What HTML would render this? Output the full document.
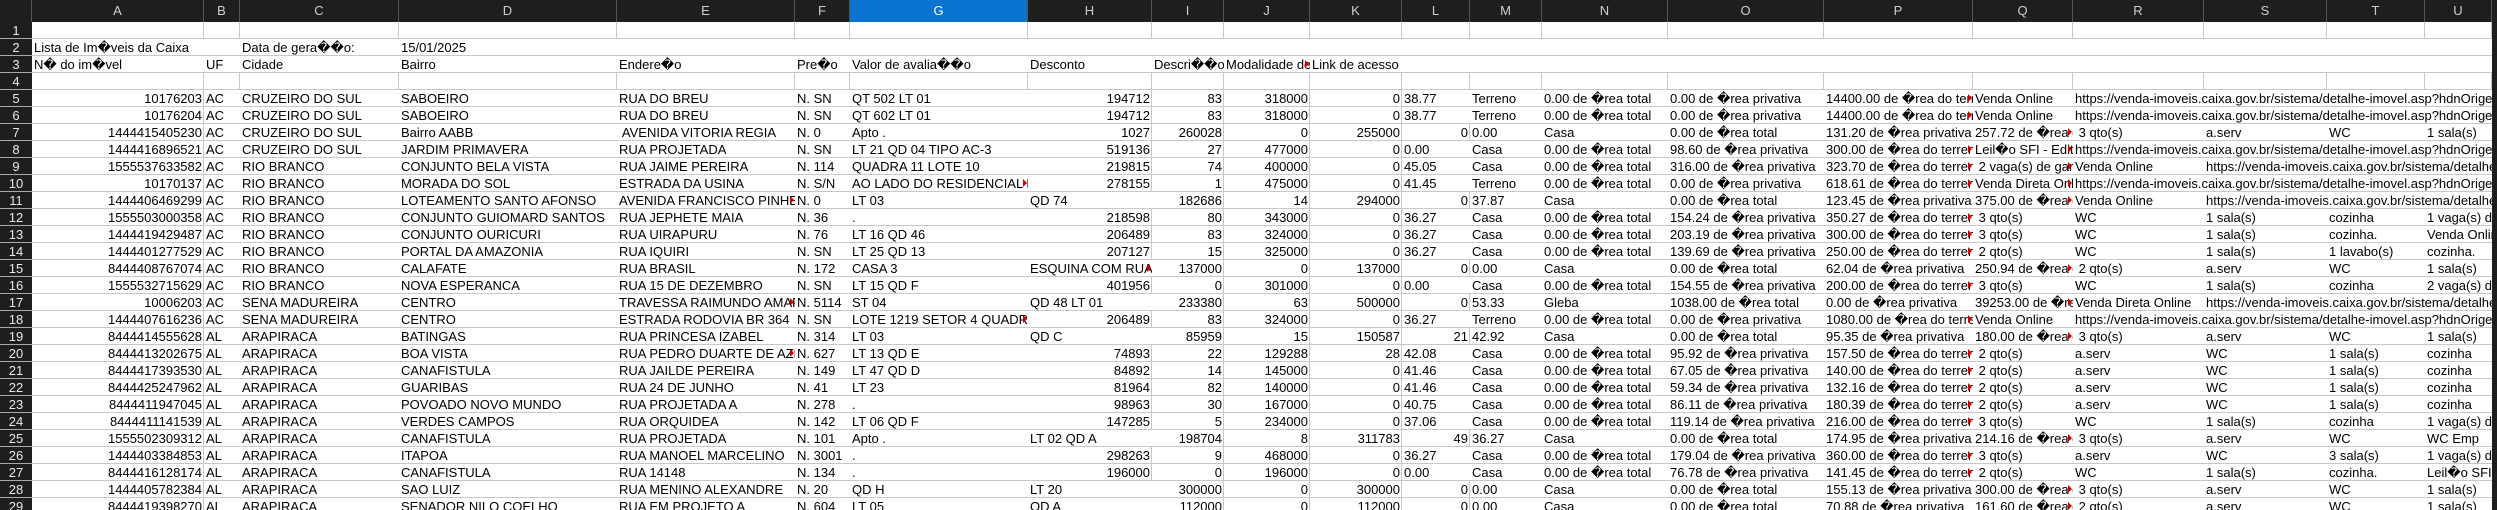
<!DOCTYPE html>
<html><head><meta charset="utf-8">
<style>
html,body{margin:0;padding:0;background:#fff;}
#sheet{position:relative;width:2497px;height:510px;overflow:hidden;font-family:"Liberation Sans",sans-serif;font-size:13px;color:#000;background:#fff;}
.colhdr{position:absolute;top:0;height:22px;background:#1e1e1e;color:#cfcfcf;text-align:center;line-height:22px;font-size:13px;box-sizing:border-box;border-right:1px solid #555;}
.colhdr.sel{background:#0a74d0;color:#fff;}
.rowhdr{position:absolute;left:0;width:32px;height:17px;background:#1e1e1e;color:#e8e8e8;text-align:center;line-height:17px;font-size:13px;box-sizing:border-box;border-bottom:1px solid #aaa;}
.cell{position:absolute;height:17px;box-sizing:border-box;border-right:1px solid #c8c8c8;border-bottom:1px solid #c8c8c8;}
.txt{position:absolute;height:16px;line-height:17px;white-space:pre;overflow:hidden;background:#fff;}
.tri{position:absolute;width:0;height:0;border-top:4px solid transparent;border-bottom:4px solid transparent;border-left:4px solid #d00000;}
</style></head>
<body>
<div id="sheet">
<div style="position:absolute;left:0;top:0;width:32px;height:22px;background:#1e1e1e;box-sizing:border-box;border-right:1px solid #555;"></div>
<div style="position:absolute;left:2492px;top:0;width:5px;height:510px;background:#1e1e1e;z-index:5;"></div>
</div>
<script>
const colLetters=["A","B","C","D","E","F","G","H","I","J","K","L","M","N","O","P","Q","R","S","T","U"];
const colEdges=[32,204,240,399,617,795,850,1028,1152,1224,1310,1402,1470,1542,1668,1824,1973,2073,2204,2327,2425,2492];
const A="0.00 de \uFFFDrea total";
const rows=[
[],
["Lista de Im\uFFFDveis da Caixa","","Data de gera\uFFFD\uFFFDo:","15/01/2025"],
["N\uFFFD do im\uFFFDvel","UF","Cidade","Bairro","Endere\uFFFDo","Pre\uFFFDo","Valor de avalia\uFFFD\uFFFDo","Desconto","Descri\uFFFD\uFFFDo","Modalidade de venda","Link de acesso"],
[],
["10176203","AC","CRUZEIRO DO SUL","SABOEIRO","RUA DO BREU","N. SN","QT 502 LT 01","194712","83","318000","0","38.77","Terreno",A,"0.00 de \uFFFDrea privativa","14400.00 de \uFFFDrea do terreno","Venda Online","https://venda-imoveis.caixa.gov.br/sistema/detalhe-imovel.asp?hdnOrigem=index&hdnimovel=10176203"],
["10176204","AC","CRUZEIRO DO SUL","SABOEIRO","RUA DO BREU","N. SN","QT 602 LT 01","194712","83","318000","0","38.77","Terreno",A,"0.00 de \uFFFDrea privativa","14400.00 de \uFFFDrea do terreno","Venda Online","https://venda-imoveis.caixa.gov.br/sistema/detalhe-imovel.asp?hdnOrigem=index&hdnimovel=10176204"],
["1444415405230","AC","CRUZEIRO DO SUL","Bairro AABB"," AVENIDA VITORIA REGIA","N. 0","Apto .","1027","260028","0","255000","0","0.00","Casa",A,"131.20 de \uFFFDrea privativa","257.72 de \uFFFDrea do terreno"," 3 qto(s)","a.serv","WC","1 sala(s)"],
["1444416896521","AC","CRUZEIRO DO SUL","JARDIM PRIMAVERA","RUA PROJETADA","N. SN","LT 21 QD 04 TIPO AC-3","519136","27","477000","0","0.00","Casa",A,"98.60 de \uFFFDrea privativa","300.00 de \uFFFDrea do terreno","Leil\uFFFDo SFI - Edital \u00danico","https://venda-imoveis.caixa.gov.br/sistema/detalhe-imovel.asp?hdnOrigem=index"],
["1555537633582","AC","RIO BRANCO","CONJUNTO BELA VISTA","RUA JAIME PEREIRA","N. 114","QUADRA 11 LOTE 10","219815","74","400000","0","45.05","Casa",A,"316.00 de \uFFFDrea privativa","323.70 de \uFFFDrea do terreno"," 2 vaga(s) de garagem","Venda Online","https://venda-imoveis.caixa.gov.br/sistema/detalhe-imovel.asp"],
["10170137","AC","RIO BRANCO","MORADA DO SOL","ESTRADA DA USINA","N. S/N","AO LADO DO RESIDENCIAL BOSQUE","278155","1","475000","0","41.45","Terreno",A,"0.00 de \uFFFDrea privativa","618.61 de \uFFFDrea do terreno","Venda Direta Online","https://venda-imoveis.caixa.gov.br/sistema/detalhe-imovel.asp?hdnOrigem=index"],
["1444406469299","AC","RIO BRANCO","LOTEAMENTO SANTO AFONSO","AVENIDA FRANCISCO PINHEIRO","N. 0","LT 03","QD 74","182686","14","294000","0","37.87","Casa",A,"123.45 de \uFFFDrea privativa","375.00 de \uFFFDrea do terreno","Venda Online","https://venda-imoveis.caixa.gov.br/sistema/detalhe-imovel.asp"],
["1555503000358","AC","RIO BRANCO","CONJUNTO GUIOMARD SANTOS","RUA JEPHETE MAIA","N. 36",".","218598","80","343000","0","36.27","Casa",A,"154.24 de \uFFFDrea privativa","350.27 de \uFFFDrea do terreno"," 3 qto(s)","WC","1 sala(s)","cozinha","1 vaga(s) de garagem"],
["1444419429487","AC","RIO BRANCO","CONJUNTO OURICURI","RUA UIRAPURU","N. 76","LT 16 QD 46","206489","83","324000","0","36.27","Casa",A,"203.19 de \uFFFDrea privativa","300.00 de \uFFFDrea do terreno"," 3 qto(s)","WC","1 sala(s)","cozinha.","Venda Online"],
["1444401277529","AC","RIO BRANCO","PORTAL DA AMAZONIA","RUA IQUIRI","N. SN","LT 25 QD 13","207127","15","325000","0","36.27","Casa",A,"139.69 de \uFFFDrea privativa","250.00 de \uFFFDrea do terreno"," 2 qto(s)","WC","1 sala(s)","1 lavabo(s)","cozinha."],
["8444408767074","AC","RIO BRANCO","CALAFATE","RUA BRASIL","N. 172","CASA 3","ESQUINA COM RUA ACRE","137000","0","137000","0","0.00","Casa",A,"62.04 de \uFFFDrea privativa","250.94 de \uFFFDrea do terreno"," 2 qto(s)","a.serv","WC","1 sala(s)"],
["1555532715629","AC","RIO BRANCO","NOVA ESPERANCA","RUA 15 DE DEZEMBRO","N. SN","LT 15 QD F","401956","0","301000","0","0.00","Casa",A,"154.55 de \uFFFDrea privativa","200.00 de \uFFFDrea do terreno"," 3 qto(s)","WC","1 sala(s)","cozinha","2 vaga(s) de garagem"],
["10006203","AC","SENA MADUREIRA","CENTRO","TRAVESSA RAIMUNDO AMARAL","N. 5114","ST 04","QD 48 LT 01","233380","63","500000","0","53.33","Gleba","1038.00 de \uFFFDrea total","0.00 de \uFFFDrea privativa","39253.00 de \uFFFDrea do terreno","Venda Direta Online","https://venda-imoveis.caixa.gov.br/sistema/detalhe-imovel.asp"],
["1444407616236","AC","SENA MADUREIRA","CENTRO","ESTRADA RODOVIA BR 364","N. SN","LOTE 1219 SETOR 4 QUADRA 2","206489","83","324000","0","36.27","Terreno",A,"0.00 de \uFFFDrea privativa","1080.00 de \uFFFDrea do terreno","Venda Online","https://venda-imoveis.caixa.gov.br/sistema/detalhe-imovel.asp?hdnOrigem=index"],
["8444414555628","AL","ARAPIRACA","BATINGAS","RUA PRINCESA IZABEL","N. 314","LT 03","QD C","85959","15","150587","21","42.92","Casa",A,"95.35 de \uFFFDrea privativa","180.00 de \uFFFDrea do terreno"," 3 qto(s)","a.serv","WC","1 sala(s)"],
["8444413202675","AL","ARAPIRACA","BOA VISTA","RUA PEDRO DUARTE DE AZEVEDO","N. 627","LT 13 QD E","74893","22","129288","28","42.08","Casa",A,"95.92 de \uFFFDrea privativa","157.50 de \uFFFDrea do terreno"," 2 qto(s)","a.serv","WC","1 sala(s)","cozinha"],
["8444417393530","AL","ARAPIRACA","CANAFISTULA","RUA JAILDE PEREIRA","N. 149","LT 47 QD D","84892","14","145000","0","41.46","Casa",A,"67.05 de \uFFFDrea privativa","140.00 de \uFFFDrea do terreno"," 2 qto(s)","a.serv","WC","1 sala(s)","cozinha"],
["8444425247962","AL","ARAPIRACA","GUARIBAS","RUA 24 DE JUNHO","N. 41","LT 23","81964","82","140000","0","41.46","Casa",A,"59.34 de \uFFFDrea privativa","132.16 de \uFFFDrea do terreno"," 2 qto(s)","a.serv","WC","1 sala(s)","cozinha"],
["8444411947045","AL","ARAPIRACA","POVOADO NOVO MUNDO","RUA PROJETADA A","N. 278",".","98963","30","167000","0","40.75","Casa",A,"86.11 de \uFFFDrea privativa","180.39 de \uFFFDrea do terreno"," 2 qto(s)","a.serv","WC","1 sala(s)","cozinha"],
["8444411141539","AL","ARAPIRACA","VERDES CAMPOS","RUA ORQUIDEA","N. 142","LT 06 QD F","147285","5","234000","0","37.06","Casa",A,"119.14 de \uFFFDrea privativa","216.00 de \uFFFDrea do terreno"," 3 qto(s)","WC","1 sala(s)","cozinha","1 vaga(s) de garagem"],
["1555502309312","AL","ARAPIRACA","CANAFISTULA","RUA PROJETADA","N. 101","Apto .","LT 02 QD A","198704","8","311783","49","36.27","Casa",A,"174.95 de \uFFFDrea privativa","214.16 de \uFFFDrea do terreno"," 3 qto(s)","a.serv","WC","WC Emp"],
["1444403384853","AL","ARAPIRACA","ITAPOA","RUA MANOEL MARCELINO","N. 3001",".","298263","9","468000","0","36.27","Casa",A,"179.04 de \uFFFDrea privativa","360.00 de \uFFFDrea do terreno"," 3 qto(s)","a.serv","WC","3 sala(s)","1 vaga(s) de garagem"],
["8444416128174","AL","ARAPIRACA","CANAFISTULA","RUA 14148","N. 134",".","196000","0","196000","0","0.00","Casa",A,"76.78 de \uFFFDrea privativa","141.45 de \uFFFDrea do terreno"," 2 qto(s)","WC","1 sala(s)","cozinha.","Leil\uFFFDo SFI - Edital"],
["1444405782384","AL","ARAPIRACA","SAO LUIZ","RUA MENINO ALEXANDRE","N. 20","QD H","LT 20","300000","0","300000","0","0.00","Casa",A,"155.13 de \uFFFDrea privativa","300.00 de \uFFFDrea do terreno"," 3 qto(s)","a.serv","WC","1 sala(s)"],
["8444419398270","AL","ARAPIRACA","SENADOR NILO COELHO","RUA EM PROJETO A","N. 604","LT 05","QD A","112000","0","112000","0","0.00","Casa",A,"70.88 de \uFFFDrea privativa","161.60 de \uFFFDrea do terreno"," 2 qto(s)","a.serv","WC","1 sala(s)"]
];
const sheet=document.getElementById('sheet');
const ROWH=17, TOP=22;
// column headers
colLetters.forEach((L,i)=>{
  const d=document.createElement('div');
  
  
  d.className='colhdr'+(L==='G'?' sel':'');
  d.style.left=colEdges[i]+'px';
  d.style.width=(colEdges[i+1]-colEdges[i])+'px';
  d.textContent=L;
  sheet.appendChild(d);
});
// rows
const texts=[];
rows.forEach((r,ri)=>{
  const y=TOP+ri*ROWH;
  const h=document.createElement('div');
  
  
  h.className='rowhdr';
  h.style.top=y+'px';
  h.textContent=ri+1;
  sheet.appendChild(h);
  for(let c=0;c<colLetters.length;c++){
    const cell=document.createElement('div');
    
    
    cell.className='cell';
    cell.style.left=colEdges[c]+'px';
    cell.style.top=y+'px';
    cell.style.width=(colEdges[c+1]-colEdges[c])+'px';
    sheet.appendChild(cell);
  }
  for(let c=0;c<colLetters.length;c++){
    const v=r[c];
    if(v===undefined||v==='') continue;
    const isNum=/^\d+$/.test(v);
    const t=document.createElement('div');
    
    
    t.className='txt';
    t.textContent=v;
    t.style.top=y+'px';
    if(isNum){
      const right=colEdges[c+1]-1;
      t.style.left=(colEdges[c]+1)+'px';
      t.style.width=(right-colEdges[c]-2)+'px';
      t.style.textAlign='right';
    } else {
      let e=c+1;
      while(e<colLetters.length && (r[e]===undefined||r[e]==='')) e++;
      const clipped=e<colLetters.length;
      t.style.left=(colEdges[c]+1)+'px';
      t.style.width=(colEdges[e]-colEdges[c]-2)+'px';
      t.style.paddingLeft='1px';
      if(clipped) texts.push([t,e,y]);
    }
    sheet.appendChild(t);
  }
});
texts.forEach(([t,e,y])=>{
  if(t.scrollWidth>t.clientWidth+1){
    const m=document.createElement('div');
    
    
    m.className='tri';
    m.style.left=(colEdges[e]-5)+'px';
    m.style.top=(y+4)+'px';
    sheet.appendChild(m);
  }
});
</script>
</body></html>
